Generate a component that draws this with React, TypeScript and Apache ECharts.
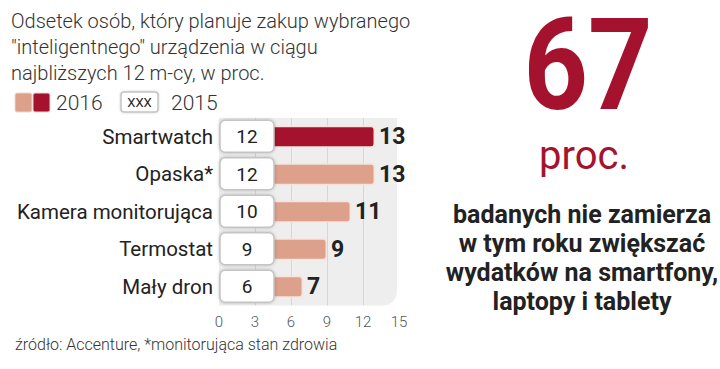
import React, { useEffect, useRef } from "react";
import * as echarts from "echarts";

const categories = ["Smartwatch", "Opaska*", "Kamera monitorująca", "Termostat", "Mały dron"];
const values2016 = [13, 13, 11, 9, 7];
const values2015 = [12, 12, 10, 9, 6];
const xTicks = [0, 3, 6, 9, 12, 15];
const titleLines = [
  "Odsetek osób, który planuje zakup wybranego",
  "\"inteligentnego\" urządzenia w ciągu",
  "najbliższych 12 m-cy, w proc.",
];
const legendYears = ["2016", "2015"];
const sourceText = "źródło: Accenture, *monitorująca stan zdrowia";
const bigNumber = "67";
const bigUnit = "proc.";
const sideLines = [
  "badanych nie zamierza",
  "w tym roku zwiększać",
  "wydatków na smartfony,",
  "laptopy i tablety",
];

const DARK_RED = "#a5122e";
const SALMON = "#dca08b";
const FONT = "Roboto, 'Noto Sans', sans-serif";

export default function App() {
  const ref = useRef<HTMLDivElement>(null);
  useEffect(() => {
    if (!ref.current) return;
    const chart = echarts.init(ref.current, null, { renderer: "svg" });
    const gridLeft = 219;
    const gridTop = 118;
    const gridW = 180;
    const gridH = 187.5;

    const graphic: any[] = [
      {
        type: "rect",
        z: -10,
        silent: true,
        shape: { x: gridLeft, y: gridTop, width: gridW - 2, height: gridH, r: [0, 0, 14, 0] },
        style: { fill: "#eeeeee" },
      },
      ...titleLines.map((t, i) => ({
        type: "text",
        x: 11,
        y: 21 + i * 26,
        style: { text: t, font: `300 20px ${FONT}`, fill: "#333", textVerticalAlign: "middle" },
      })),
      { type: "rect", shape: { x: 15, y: 93, width: 17, height: 19, r: 2 }, style: { fill: SALMON, stroke: "#e8d8d2", lineWidth: 1 } },
      { type: "rect", shape: { x: 33, y: 93, width: 17, height: 19, r: 2 }, style: { fill: DARK_RED, stroke: "#e8d8d2", lineWidth: 1 } },
      {
        type: "text",
        x: 56,
        y: 103,
        style: { text: legendYears[0], font: `300 21px ${FONT}`, fill: "#333", textVerticalAlign: "middle" },
      },
      {
        type: "rect",
        shape: { x: 121, y: 92, width: 37, height: 20, r: 3 },
        style: { fill: "#fff", stroke: "#c4c4c4", lineWidth: 1.5, shadowBlur: 2, shadowColor: "rgba(0,0,0,0.2)" },
      },
      {
        type: "text",
        x: 139.5,
        y: 102,
        style: { text: "XXX", font: `400 13px ${FONT}`, fill: "#222", textAlign: "center", textVerticalAlign: "middle" },
      },
      {
        type: "text",
        x: 171,
        y: 103,
        style: { text: legendYears[1], font: `300 21px ${FONT}`, fill: "#333", textVerticalAlign: "middle" },
      },
      {
        type: "text",
        x: 15,
        y: 344,
        style: { text: sourceText, font: `300 16px ${FONT}`, fill: "#333", textVerticalAlign: "middle" },
      },
      {
        type: "text",
        x: 588,
        y: 65,
        scaleX: 0.88,
        style: { text: bigNumber, font: `700 128px ${FONT}`, fill: DARK_RED, textAlign: "center", textVerticalAlign: "middle" },
      },
      {
        type: "text",
        x: 584,
        y: 155,
        style: { text: bigUnit, font: `400 40px ${FONT}`, fill: DARK_RED, textAlign: "center", textVerticalAlign: "middle" },
      },
      ...sideLines.map((t, i) => ({
        type: "text",
        x: 582,
        y: 214 + i * 29,
        style: { text: t, font: `700 25px ${FONT}`, fill: "#222", textAlign: "center", textVerticalAlign: "middle" },
      })),
    ];

    chart.setOption({
      animation: false,
      grid: { left: gridLeft, top: gridTop, width: gridW, height: gridH, containLabel: false },
      xAxis: {
        type: "value",
        min: xTicks[0],
        max: xTicks[xTicks.length - 1],
        interval: 3,
        axisLine: { show: false },
        axisTick: { show: false },
        axisLabel: { fontSize: 15, fontFamily: FONT, fontWeight: 300, color: "#555", margin: 9 },
        splitLine: { show: true, showMinLine: false, showMaxLine: false, lineStyle: { color: "#d6d6d6", width: 1 } },
      },
      yAxis: {
        type: "category",
        data: categories,
        inverse: true,
        axisLine: { show: false },
        axisTick: { show: false },
        axisLabel: { fontSize: 20.5, fontFamily: FONT, color: "#222", margin: 6 },
      },
      series: [
        {
          type: "bar",
          data: values2016.map((v, i) => ({
            value: v,
            itemStyle: { color: i === 0 ? DARK_RED : SALMON },
          })),
          barWidth: 22,
          itemStyle: { borderColor: "#f6e4dc", borderWidth: 1.5, borderRadius: 3 },
          label: {
            show: true,
            position: "right",
            distance: 4,
            fontSize: 23,
            fontWeight: 700,
            fontFamily: FONT,
            color: "#222",
          },
          z: 2,
        },
        {
          type: "custom",
          data: values2015.map((v, i) => [i, v]),
          encode: { y: 0 },
          z: 5,
          renderItem: (params: any, api: any) => {
            const p = api.coord([0, api.value(0)]);
            return {
              type: "group",
              children: [
                {
                  type: "rect",
                  shape: { x: p[0] + 1, y: p[1] - 16.5, width: 54, height: 32, r: 5 },
                  style: { fill: "#fff", stroke: "#c4c4c4", lineWidth: 1.5, shadowBlur: 3, shadowColor: "rgba(0,0,0,0.25)" },
                },
                {
                  type: "text",
                  x: p[0] + 28,
                  y: p[1],
                  style: {
                    text: String(api.value(1)),
                    font: `400 19px ${FONT}`,
                    fill: "#222",
                    textAlign: "center",
                    textVerticalAlign: "middle",
                  },
                },
              ],
            };
          },
        },
      ],
      graphic,
    });
    return () => chart.dispose();
  }, []);
  return (
    <div
      ref={ref}
      style={{ position: "fixed", left: 0, top: 0, width: 720, height: 369, background: "#fff" }}
    />
  );
}
